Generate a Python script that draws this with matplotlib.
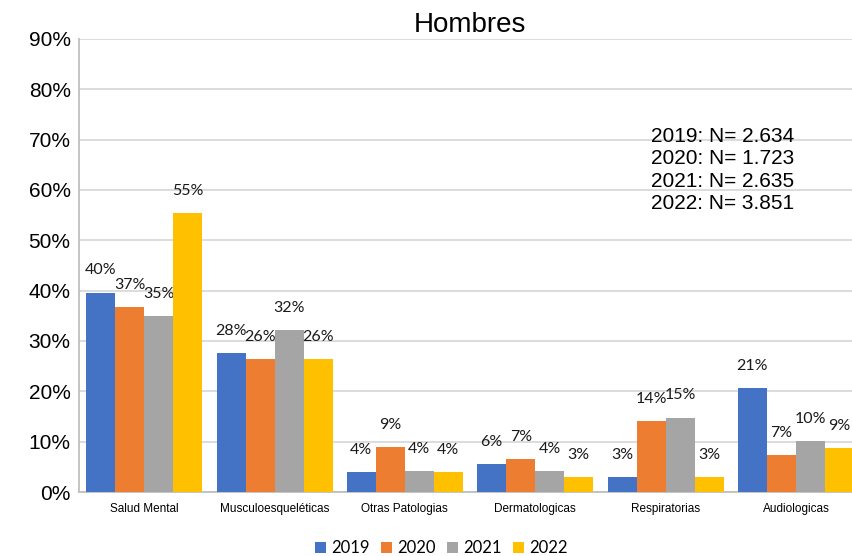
import matplotlib.pyplot as plt
import numpy as np

# Data (share of men per pathology group, %)
categories = ['Salud Mental', 'Musculoesqueléticas', 'Otras Patologias',
              'Dermatologicas', 'Respiratorias', 'Audiologicas']
years = ['2019', '2020', '2021', '2022']
v2019 = [39.6, 27.6, 3.9, 5.6, 3.0, 20.7]
v2020 = [36.8, 26.4, 8.9, 6.6, 14.1, 7.4]
v2021 = [35.0, 32.2, 4.2, 4.1, 14.8, 10.1]
v2022 = [55.4, 26.4, 4.0, 2.9, 3.0, 8.7]
n_lines = ['2019: N= 2.634', '2020: N= 1.723', '2021: N= 2.635', '2022: N= 3.851']

colors = ['#4472C4', '#ED7D31', '#A5A5A5', '#FFC000']
series = [v2019, v2020, v2021, v2022]

fig = plt.figure(figsize=(8.52, 5.56), dpi=100)
ax = fig.add_axes([0.0927, 0.1151, 0.918, 0.8148])

x = np.arange(len(categories))
width = 0.2225
for i, (vals, col, yr) in enumerate(zip(series, colors, years)):
    pos = x + (i - 1.5) * width
    vals = np.array(vals) / 100
    ax.bar(pos, vals, width, color=col, label=yr, zorder=3)
    for px, v in zip(pos, vals):
        ax.annotate(f'{v * 100:.0f}%', (px, v), xytext=(0, 16), textcoords='offset points',
                    ha='center', va='center', fontsize=11.5, family='Lato', color='#1a1a1a')

ax.set_xlim(-0.5, len(categories) - 0.5)
ax.set_ylim(0, 0.9)
ax.set_yticks(np.arange(0, 0.91, 0.1))
ax.set_yticklabels([f'{t}%' for t in range(0, 91, 10)], fontsize=15, family='Liberation Sans')
ax.set_xticks(x)
ax.set_xticklabels(categories, fontsize=8.5, family='Liberation Sans')
ax.tick_params(axis='both', length=0, pad=6)
ax.tick_params(axis='x', pad=8)
ax.grid(axis='y', color='#D9D9D9', linewidth=1.3, zorder=0)
for s in ['top', 'right']:
    ax.spines[s].set_visible(False)
for s in ['left', 'bottom']:
    ax.spines[s].set_color('#BFBFBF')
    ax.spines[s].set_linewidth(1.3)

ax.set_title('Hombres', fontsize=20, family='Liberation Sans', pad=5)

fig.text(0.764, 0.772, '\n'.join(n_lines), fontsize=15, family='Liberation Sans',
         va='top', ha='left', linespacing=1.23)

fig.legend(loc='lower center', bbox_to_anchor=(0.518, -0.027), ncol=4, frameon=False,
           prop={'family': 'Lato', 'size': 12}, handlelength=0.65, handleheight=0.65,
           handletextpad=0.35, columnspacing=0.65)

fig.savefig('out.png', dpi=100)
